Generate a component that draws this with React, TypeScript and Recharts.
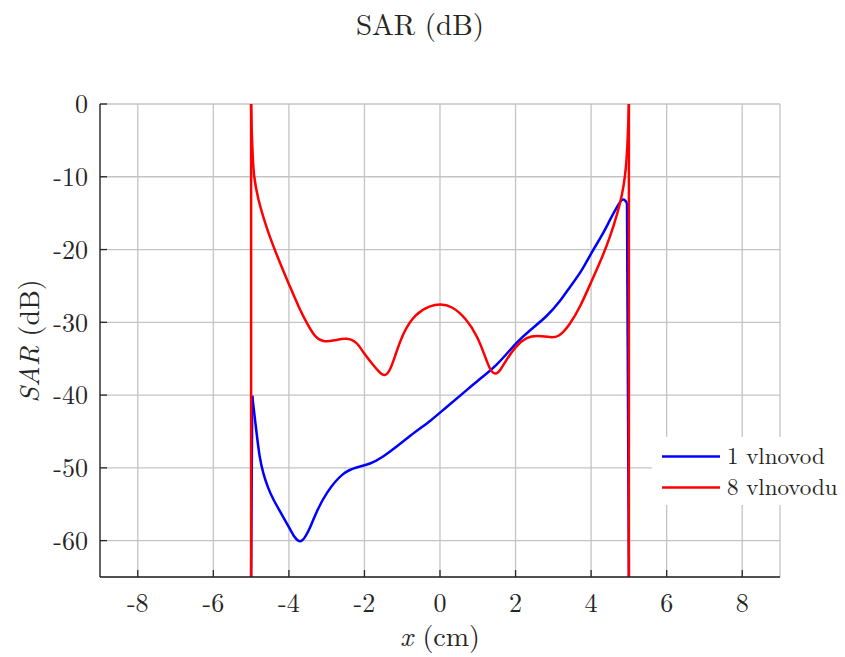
import React from 'react';
import { LineChart, Line, XAxis, YAxis, CartesianGrid } from 'recharts';

// ── Series values ─────────────────────────────────────────────

// 1 vlnovod (blue)
const blueX = [
  -4.97, -4.86, -4.78, -4.68, -4.55, -4.42, -4.2, -3.97, -3.85, -3.71, -3.58, -3.4, -3.27, -3.0,
  -2.57, -2.21, -1.85, -1.51, -1.15, -0.62, -0.26, 0.18, 0.6, 1.0, 1.5, 2.03, 2.4, 2.83, 3.2,
  3.44, 3.75, 4.02, 4.3, 4.5, 4.7, 4.8, 4.87, 4.95,
];
const blueY = [
  -40.1, -45, -48.5, -50.8, -52.8, -54.3, -56.3, -58.4, -59.6, -60.3, -59.7, -57.8, -56, -53.3,
  -50.6, -49.9, -49.5, -48.5, -47.1, -44.9, -43.6, -41.6, -39.8, -38, -36, -32.7, -31, -29.2, -27,
  -25.1, -23, -20.3, -18, -15.9, -14, -13.2, -13, -13.6,
];

// 8 vlnovodu (red)
const redX = [
  -5, -4.99, -4.96, -4.93, -4.81, -4.68, -4.5, -4.2, -3.97, -3.75, -3.52, -3.3, -3.1, -2.8, -2.47,
  -2.2, -2.04, -1.75, -1.6, -1.46, -1.32, -1.2, -0.98, -0.65, -0.26, 0, 0.3, 0.7, 1.0, 1.2, 1.32,
  1.46, 1.6, 1.75, 2.0, 2.3, 2.57, 2.85, 3.13, 3.44, 3.7, 4.0, 4.3, 4.5, 4.7, 4.82, 4.9, 4.96, 5,
];
const redY = [
  0, -3, -7, -10, -13.2, -15.5, -18.4, -22.3, -25.1, -27.8, -30.2, -32.1, -32.7, -32.5, -32.1,
  -32.7, -34.1, -36, -36.9, -37.5, -36.6, -34.8, -31.4, -28.8, -27.7, -27.5, -27.7, -29.5, -32,
  -34.8, -36.5, -37.3, -36.6, -35.2, -33.3, -32, -31.8, -32, -32.2, -30.3, -28, -24.5, -21, -18.3,
  -15, -12.5, -10, -6.5, 0,
];

// vertical walls at the waveguide edges
const blueWallLeftX = [-5, -4.97];
const blueWallLeftY = [-65, -40.1];
const blueWallRightX = [4.95, 5];
const blueWallRightY = [-13.6, -65];
const redWallLeftX = [-5, -5];
const redWallLeftY = [-65, 0];
const redWallRightX = [5, 5];
const redWallRightY = [0, -65];

const xTicks = [-8, -6, -4, -2, 0, 2, 4, 6, 8];
const yTicks = [0, -10, -20, -30, -40, -50, -60];

const seriesNames = ['1 vlnovod', '8 vlnovodu'];
const BLUE = '#0000ff';
const RED = '#ff0000';

const FONT = '"Latin Modern Roman", "Liberation Serif", serif';
const INK = '#262626';

const zip = (xs: number[], ys: number[]) => xs.map((x, i) => ({ x, y: ys[i] }));

const XTick = (props: any) => (
  <text
    x={props.x}
    y={props.y}
    dy="0.71em"
    textAnchor="middle"
    fontSize={26}
    fill={INK}
    style={{ fontFamily: FONT }}
  >
    {props.payload.value}
  </text>
);

const YTick = (props: any) => (
  <text
    x={props.x}
    y={props.y}
    dy="0.355em"
    textAnchor="end"
    fontSize={26}
    fill={INK}
    style={{ fontFamily: FONT }}
  >
    {props.payload.value}
  </text>
);

const lineProps = { dataKey: 'y', strokeWidth: 2.5, dot: false, isAnimationActive: false };

export default function App() {
  return (
    <div
      style={{
        position: 'absolute',
        left: 0,
        top: 0,
        width: 845,
        height: 657,
        background: '#ffffff',
        fontFamily: FONT,
      }}
    >
      <LineChart width={845} height={657} margin={{ top: 104, right: 65, bottom: 0, left: 0 }}>
        <CartesianGrid stroke="#c4c4c4" strokeWidth={1.3} />
        <XAxis
          type="number"
          dataKey="x"
          domain={[-9, 9]}
          ticks={xTicks}
          allowDataOverflow
          height={80}
          tickSize={-7}
          tickMargin={24}
          stroke={INK}
          strokeWidth={1.3}
          tick={XTick}
        />
        <YAxis
          type="number"
          dataKey="y"
          domain={[-65, 0]}
          ticks={yTicks}
          allowDataOverflow
          width={100}
          tickSize={-7}
          tickMargin={19}
          stroke={INK}
          strokeWidth={1.3}
          tick={YTick}
        />
        <Line {...lineProps} data={zip(blueWallLeftX, blueWallLeftY)} type="linear" stroke={BLUE} />
        <Line {...lineProps} data={zip(blueX, blueY)} name={seriesNames[0]} type="basis" stroke={BLUE} />
        <Line {...lineProps} data={zip(blueWallRightX, blueWallRightY)} type="linear" stroke={BLUE} />
        <Line {...lineProps} data={zip(redWallLeftX, redWallLeftY)} type="linear" stroke={RED} />
        <Line {...lineProps} data={zip(redX, redY)} name={seriesNames[1]} type="basis" stroke={RED} />
        <Line {...lineProps} data={zip(redWallRightX, redWallRightY)} type="linear" stroke={RED} />
      </LineChart>

      {/* title, axis labels and legend */}
      <svg
        width={845}
        height={657}
        style={{ position: 'absolute', left: 0, top: 0, pointerEvents: 'none', fontFamily: FONT }}
        fill={INK}
      >
        <text x={420} y={35} textAnchor="middle" fontSize={29}>
          SAR (dB)
        </text>
        <text x={440} y={646} textAnchor="middle" fontSize={28}>
          <tspan fontStyle="italic">x</tspan> (cm)
        </text>
        <text transform="translate(39,341) rotate(-90)" textAnchor="middle" fontSize={28}>
          <tspan fontStyle="italic">SAR</tspan> (dB)
        </text>

        <rect x={652} y={437} width={193} height={68} fill="#ffffff" />
        {seriesNames.map((name, i) => (
          <g key={name}>
            <line
              x1={662}
              x2={720}
              y1={456.5 + i * 31}
              y2={456.5 + i * 31}
              stroke={i === 0 ? BLUE : RED}
              strokeWidth={2.5}
            />
            <text x={727} y={464 + i * 31} fontSize={23}>
              {name}
            </text>
          </g>
        ))}
      </svg>
    </div>
  );
}
